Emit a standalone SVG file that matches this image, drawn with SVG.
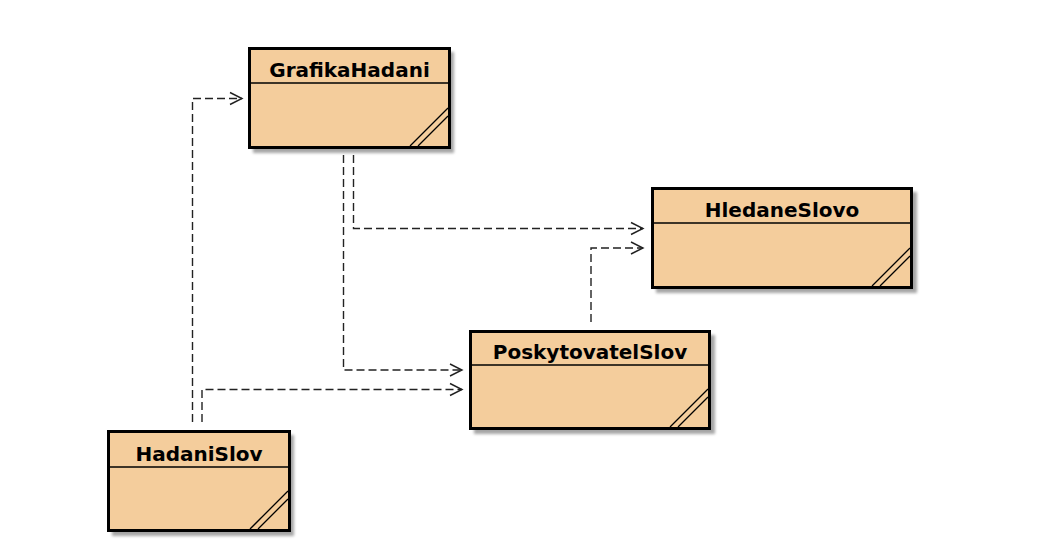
<svg xmlns="http://www.w3.org/2000/svg" width="1049" height="540" viewBox="0 0 1049 540">
  <style>
    .shadow { fill: #000; opacity: 0.35; filter: url(#blur); }
    .box { fill: #f4cd9c; stroke: #000; stroke-width: 3; }
    .sep { stroke: #000; stroke-width: 1.5; fill: none; }
    .hatch { stroke: #000; stroke-width: 1.3; fill: none; }
    .name { font-family: "DejaVu Sans", "Liberation Sans", sans-serif; font-weight: bold; font-size: 20px; fill: #000; text-anchor: middle; }
    .dep { fill: none; stroke: #222; stroke-width: 1.4; stroke-dasharray: 8 4; marker-end: url(#open); }
  </style>
  <defs>
    <filter id="blur" x="-10%" y="-10%" width="130%" height="130%">
      <feGaussianBlur stdDeviation="1.5"/>
    </filter>
    <marker id="open" markerUnits="userSpaceOnUse" markerWidth="16" markerHeight="16" viewBox="-1 -8 15 16" refX="12" refY="0" orient="auto">
      <path d="M0,-6 L12,0 L0,6" fill="none" stroke="#222" stroke-width="1.4" stroke-dasharray="none"/>
    </marker>
  </defs>
  <rect width="1049" height="540" fill="#ffffff"/>

  <g id="connectors">
    <path class="dep" d="M192.5,422 V98.5 H242"/>
    <path class="dep" d="M202,422 V389.5 H462"/>
    <path class="dep" d="M353.5,155 V228.5 H643"/>
    <path class="dep" d="M343.5,155 V370 H462"/>
    <path class="dep" d="M591,322 V248 H643"/>
  </g>

  <g id="GrafikaHadani">
    <rect class="shadow" x="253" y="52" width="201" height="101"/>
    <rect class="box" x="249.5" y="48.5" width="200" height="99"/>
    <line class="sep" x1="249.5" y1="83" x2="449.5" y2="83"/>
    <line class="hatch" x1="410" y1="146" x2="448" y2="108"/>
    <line class="hatch" x1="418" y1="146" x2="448" y2="116"/>
    <text class="name" x="349.5" y="77">GrafikaHadani</text>
  </g>

  <g id="HledaneSlovo">
    <rect class="shadow" x="656" y="192" width="261" height="101"/>
    <rect class="box" x="652.5" y="188.5" width="259" height="99"/>
    <line class="sep" x1="652.5" y1="223" x2="911.5" y2="223"/>
    <line class="hatch" x1="872" y1="286" x2="910" y2="248"/>
    <line class="hatch" x1="880" y1="286" x2="910" y2="256"/>
    <text class="name" x="782" y="217">HledaneSlovo</text>
  </g>

  <g id="PoskytovatelSlov">
    <rect class="shadow" x="474" y="335" width="241" height="99"/>
    <rect class="box" x="470.5" y="331.5" width="239" height="97"/>
    <line class="sep" x1="470.5" y1="365" x2="709.5" y2="365"/>
    <line class="hatch" x1="670" y1="427" x2="708" y2="389"/>
    <line class="hatch" x1="678" y1="427" x2="708" y2="397"/>
    <text class="name" x="590" y="359">PoskytovatelSlov</text>
  </g>

  <g id="HadaniSlov">
    <rect class="shadow" x="112" y="435" width="182" height="101"/>
    <rect class="box" x="108.5" y="431.5" width="181" height="99"/>
    <line class="sep" x1="108.5" y1="467" x2="289.5" y2="467"/>
    <line class="hatch" x1="250" y1="529" x2="288" y2="491"/>
    <line class="hatch" x1="258" y1="529" x2="288" y2="499"/>
    <text class="name" x="199" y="461">HadaniSlov</text>
  </g>
</svg>
